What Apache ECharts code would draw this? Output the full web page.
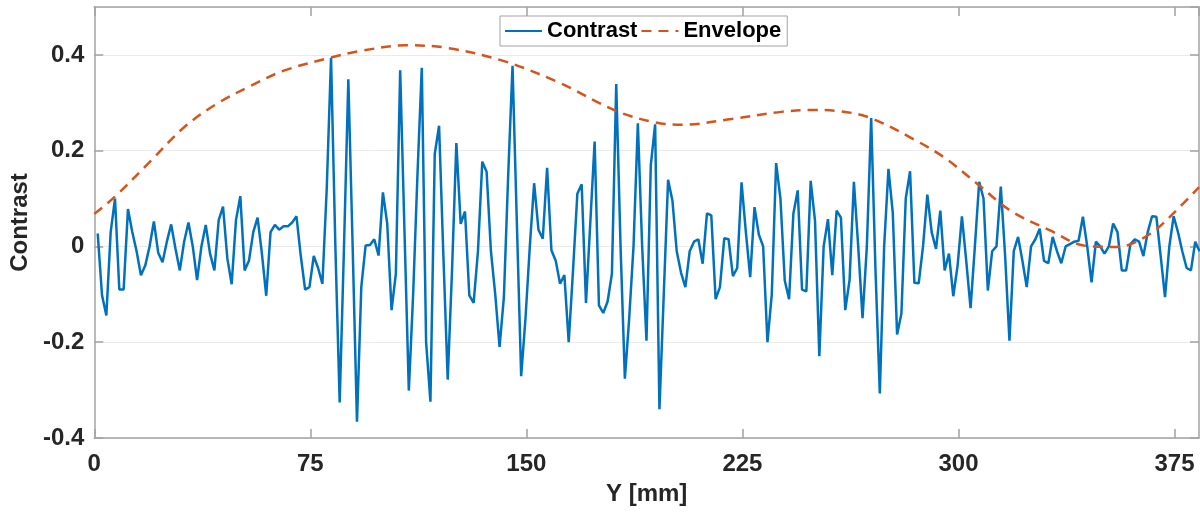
<!DOCTYPE html>
<html>
<head>
<meta charset="utf-8">
<script src="https://cdn.jsdelivr.net/npm/echarts@6/dist/echarts.min.js"></script>
<style>
  html, body { margin: 0; padding: 0; background: #fff; }
  #chart { width: 1200px; height: 512px; }
</style>
</head>
<body>
<div id="chart"></div>
<script>
// Y position of first sample and spacing between samples [mm]
var sampleStart = 1.2;
var sampleStep = 1.5;

// contrast, one value per sample
var contrastValues = [
    0.027, -0.102, -0.144, 0.03, 0.10, -0.09, -0.09, 0.078, 0.03, -0.01,
    -0.06, -0.04, 0.0, 0.052, -0.013, -0.033, 0.01, 0.046, -0.005, -0.05,
    0.01, 0.05, 0.0, -0.07, 0.0, 0.045, -0.015, -0.05, 0.055, 0.083,
    -0.025, -0.079, 0.055, 0.105, -0.05, -0.03, 0.03, 0.06, -0.015, -0.103,
    0.03, 0.045, 0.035, 0.042, 0.042, 0.05, 0.063, -0.02, -0.09, -0.085,
    -0.02, -0.045, -0.078, 0.12, 0.394, 0.0, -0.326, 0.0, 0.349, 0.0,
    -0.366, -0.085, 0.002, 0.003, 0.015, -0.019, 0.113, 0.048, -0.133, -0.057,
    0.368, 0.03, -0.301, -0.1, 0.15, 0.373, -0.2, -0.324, 0.193, 0.252,
    -0.02, -0.278, -0.05, 0.216, 0.047, 0.073, -0.102, -0.118, -0.01, 0.177,
    0.156, -0.01, -0.1, -0.21, -0.106, 0.15, 0.377, 0.05, -0.271, -0.15,
    0.0, 0.132, 0.035, 0.016, 0.164, -0.008, -0.03, -0.078, -0.06, -0.2,
    -0.05, 0.11, 0.13, -0.118, 0.05, 0.219, -0.123, -0.139, -0.115, -0.057,
    0.339, 0.0, -0.276, -0.15, 0.0, 0.257, 0.0, -0.197, 0.17, 0.255,
    -0.34, -0.1, 0.139, 0.096, -0.01, -0.055, -0.085, -0.01, 0.01, 0.015,
    -0.036, 0.069, 0.065, -0.11, -0.085, 0.017, 0.015, -0.062, -0.045, 0.134,
    0.03, -0.064, 0.082, 0.025, 0.0, -0.2, -0.1, 0.174, 0.10, -0.071,
    -0.11, 0.069, 0.117, -0.09, -0.094, 0.137, 0.054, -0.229, 0.0, 0.057,
    -0.06, 0.075, 0.06, -0.133, -0.07, 0.135, 0.0, -0.15, 0.0, 0.268,
    -0.05, -0.307, 0.0, 0.162, 0.07, -0.184, -0.14, 0.1, 0.157, -0.076,
    -0.077, 0.0, 0.108, 0.03, -0.005, 0.075, -0.05, -0.015, -0.104, -0.04,
    0.063, -0.03, -0.129, 0.0, 0.135, 0.1, -0.092, -0.01, 0.0, 0.125,
    -0.02, -0.197, -0.01, 0.02, -0.03, -0.085, 0.0, 0.015, 0.037, -0.03,
    -0.035, 0.02, -0.01, -0.035, 0.0, 0.005, 0.01, 0.012, 0.062, 0.0,
    -0.075, 0.01, 0.0, -0.015, 0.0, 0.048, 0.03, -0.05, -0.05, 0.005,
    0.015, 0.01, -0.02, 0.03, 0.063, 0.062, -0.02, -0.106, 0.0, 0.063,
    0.03, -0.01, -0.045, -0.05, 0.01, -0.01
];

// envelope curve, points
var envelopeY = [0, 7, 19.7, 31.2, 42.6, 54.2, 65.8, 81.9, 92.3, 108.3, 122, 141.7, 161.4, 181.2, 194.8, 204,
    221.2, 238.5, 248.9, 258, 269.6, 285, 295, 306.5, 318, 332, 343.5, 355, 366.4, 377.9, 383.5];
var envelopeValues = [0.068, 0.103, 0.179, 0.249, 0.298, 0.335, 0.367, 0.394, 0.408, 0.42, 0.415, 0.388, 0.342, 0.283, 0.259, 0.254,
    0.266, 0.281, 0.285, 0.283, 0.268, 0.222, 0.186, 0.131, 0.075, 0.033, 0.002, -0.001, 0.026, 0.089, 0.124];

var xTicks = [0, 75, 150, 225, 300, 375];
var yTicks = [-0.4, -0.2, 0, 0.2, 0.4];

var contrastData = [];
for (var i = 0; i < contrastValues.length; i++) {
    contrastData.push([sampleStart + i * sampleStep, contrastValues[i]]);
}
var envelopeData = [];
for (var j = 0; j < envelopeY.length; j++) {
    envelopeData.push([envelopeY[j], envelopeValues[j]]);
}

var frameColor = '#a3a3a3';
var txt = { fontFamily: 'Arial, "Liberation Sans", sans-serif', fontWeight: 'bold', color: '#262626' };

function frameAxis(pos, extra) {
    var a = {
        type: 'value',
        position: pos,
        axisLine: { show: true, onZero: false, lineStyle: { color: frameColor, width: 1.5 } },
        axisTick: { show: true, inside: true, length: 9, lineStyle: { color: frameColor, width: 1.5 } },
        axisLabel: { show: false },
        splitLine: { show: false }
    };
    for (var k in extra) a[k] = extra[k];
    return a;
}

var xRange = { min: 0, max: 383.5, interval: xTicks[1] - xTicks[0] };
var yRange = { min: yTicks[0], max: 0.5, interval: yTicks[1] - yTicks[0] };

var chart = echarts.init(document.getElementById('chart'));
chart.setOption({
    animation: false,
    backgroundColor: '#fff',
    grid: { left: 90, right: 1, top: 7, bottom: 74, show: false },
    legend: {
        left: 500, top: 16,
        orient: 'horizontal',
        backgroundColor: '#fff',
        borderColor: frameColor, borderWidth: 1,
        padding: [4, 6, 4, 4],
        itemWidth: 37, itemHeight: 14, itemGap: 3,
        itemStyle: { opacity: 0 },
        textStyle: { fontFamily: txt.fontFamily, fontWeight: 'bold', fontSize: 22, color: '#000' },
        data: ['Contrast', 'Envelope']
    },
    xAxis: [
        frameAxis('bottom', {
            min: xRange.min, max: xRange.max, interval: xRange.interval,
            axisLabel: { show: true, showMaxLabel: false, margin: 14, fontSize: 24, fontFamily: txt.fontFamily, fontWeight: 'bold', color: txt.color },
            name: 'Y [mm]', nameLocation: 'middle', nameGap: 44,
            nameTextStyle: { fontSize: 24, fontFamily: txt.fontFamily, fontWeight: 'bold', color: txt.color }
        }),
        frameAxis('top', { min: xRange.min, max: xRange.max, interval: xRange.interval })
    ],
    yAxis: [
        frameAxis('left', {
            min: yRange.min, max: yRange.max, interval: yRange.interval,
            axisLabel: { show: true, showMaxLabel: false, margin: 10, fontSize: 24, fontFamily: txt.fontFamily, fontWeight: 'bold', color: txt.color },
            splitLine: { show: true, lineStyle: { color: '#ebebeb', width: 1 } },
            name: 'Contrast', nameLocation: 'middle', nameGap: 55,
            nameTextStyle: { fontSize: 24, fontFamily: txt.fontFamily, fontWeight: 'bold', color: txt.color }
        }),
        frameAxis('right', { min: yRange.min, max: yRange.max, interval: yRange.interval })
    ],
    series: [
        {
            name: 'Contrast', type: 'line',
            data: contrastData,
            symbol: 'none', showSymbol: false,
            lineStyle: { color: '#0072BD', width: 2.5 },
            itemStyle: { color: '#0072BD' },
            z: 3
        },
        {
            name: 'Envelope', type: 'line',
            data: envelopeData,
            smooth: 0.35,
            symbol: 'none', showSymbol: false,
            lineStyle: { color: '#D95319', width: 2.5, type: [10, 7] },
            itemStyle: { color: '#D95319' },
            z: 4
        }
    ]
});
</script>
</body>
</html>
